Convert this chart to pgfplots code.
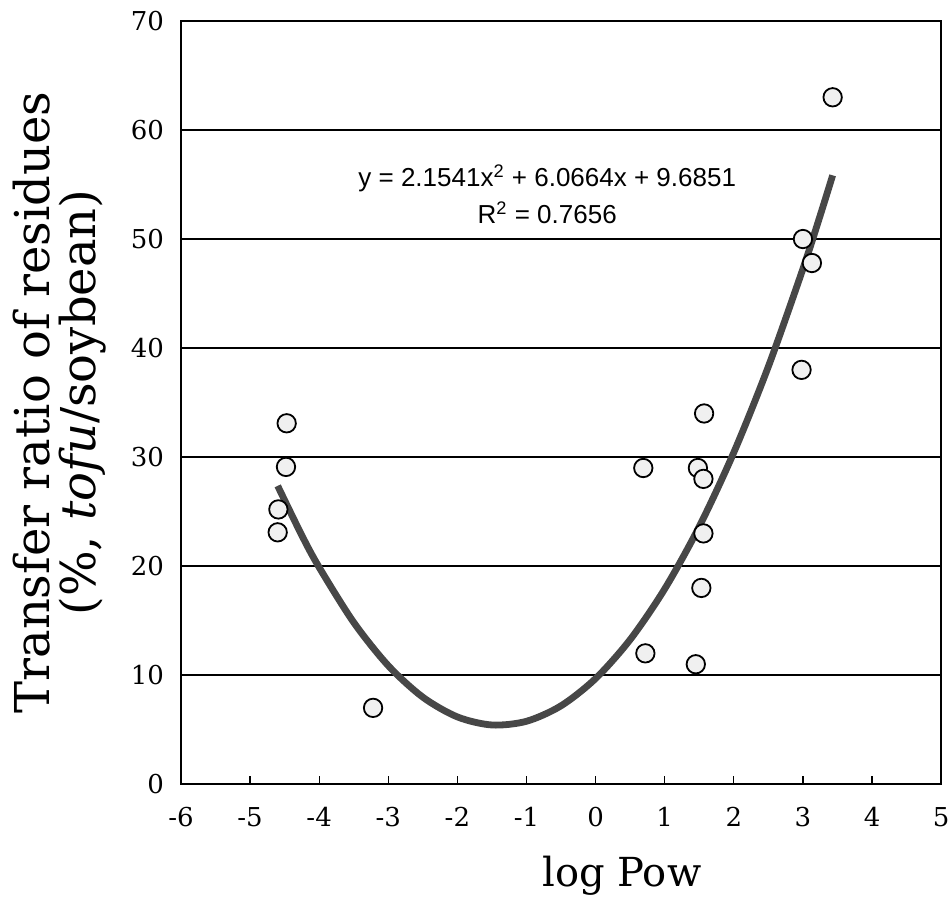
\documentclass[border=0pt]{standalone}
\usepackage{fontspec}
\setmainfont{DejaVu Serif}
\newfontfamily\eqfont{Liberation Sans}
\usepackage{pgfplots}
\pgfplotsset{compat=1.18}

% measured points (log Pow, transfer ratio %)
\pgfplotstableread{
x y
-4.60 23.1
-4.59 25.2
-4.48 29.1
-4.47 33.1
-3.22 7.0
0.69 29.0
0.72 12.0
1.45 11.0
1.48 29.0
1.56 28.0
1.57 34.0
1.56 23.0
1.53 18.0
2.98 38.0
3.00 50.0
3.13 47.8
3.43 63.0
}\pts

% trendline y = 2.1541x^2 + 6.0664x + 9.6851
\pgfplotstableread{
x y
-4.60 27.36
-4.25 22.81
-4.00 19.89
-3.50 14.84
-3.00 10.87
-2.50 7.98
-2.00 6.17
-1.50 5.43
-1.00 5.77
-0.50 7.19
0.00 9.69
0.50 13.26
1.00 17.91
1.50 23.63
2.00 30.43
2.50 38.31
3.00 47.27
3.25 52.17
3.43 55.84
}\fit

\begin{document}
\begin{tikzpicture}
\begin{axis}[
    scale only axis,
    width=380pt, height=381.5pt,
    xmin=-6, xmax=5, ymin=0, ymax=70,
    xtick={-6,...,5},
    xticklabels={-6,-5,-4,-3,-2,-1,0,1,2,3,4,5},
    ytick={0,10,...,70},
    ymajorgrids,
    grid style={black, line width=1pt},
    axis line style={black, line width=1.2pt},
    tick align=inside,
    xtick pos=bottom, ytick pos=left,
    major tick length=4pt,
    tick style={black, line width=0.6pt},
    /pgf/number format/assume math mode=true,
    tick label style={font=\fontsize{13}{15}\selectfont},
    xticklabel style={yshift=-8pt},
    yticklabel style={xshift=-5pt},
    xlabel={log Pow},
    xlabel style={font=\fontsize{20}{24}\selectfont, at={(axis description cs:0.58,-0.12)}, anchor=center},
    ylabel={Transfer ratio of residues\\(\%, \textit{tofu}/soybean)},
    ylabel style={font=\fontsize{24}{23}\selectfont, align=center, at={(axis description cs:-0.159,0.5)}, anchor=center},
]
\addplot[black!72, line width=3.4pt, smooth] table {\fit};
\addplot[only marks, mark=*, mark size=4.6pt,
    mark options={fill=gray!12, draw=black, line width=0.9pt}] table {\pts};
\node[font=\eqfont\fontsize{13}{18.5}\selectfont, align=center]
    at (axis cs:-0.70,54.1) {y = 2.1541x\textsuperscript{2} + 6.0664x + 9.6851\\R\textsuperscript{2} = 0.7656};
\coordinate (bbsw) at (axis description cs:-0.238,-0.178);
\coordinate (bbne) at (axis description cs:1.009,1.0275);
\end{axis}
\pgfresetboundingbox
\path (bbsw) rectangle (bbne);
\end{tikzpicture}
\end{document}
